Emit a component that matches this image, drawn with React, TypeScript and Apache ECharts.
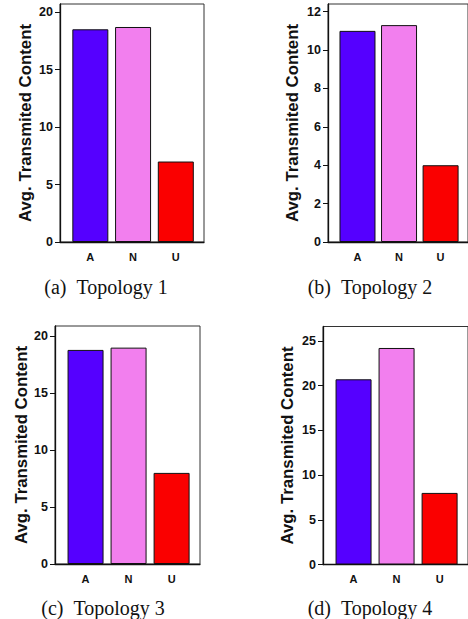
import { useEffect, useRef } from "react";
import * as echarts from "echarts";

const categories = ["A", "N", "U"];
const topology1 = [18.5, 18.7, 7.0];
const topology2 = [11.0, 11.3, 4.0];
const topology3 = [18.8, 19.0, 8.0];
const topology4 = [20.7, 24.2, 8.0];
const seriesValues = [topology1, topology2, topology3, topology4];
const yMaxes = [20.7, 12.4, 20.9, 26.6];
const ySteps = [5, 2, 5, 5];
const yTicks1 = [0, 5, 10, 15, 20];
const yTicks2 = [0, 2, 4, 6, 8, 10, 12];
const yTicks3 = [0, 5, 10, 15, 20];
const yTicks4 = [0, 5, 10, 15, 20, 25];
const yTickLists = [yTicks1, yTicks2, yTicks3, yTicks4];
const captions = ["(a)\u2002Topology 1", "(b)\u2002Topology 2", "(c)\u2002Topology 3", "(d)\u2002Topology 4"];
const yTitle = "Avg. Transmited Content";
const barColors = ["#5500ff", "#f27fee", "#fa0000"];

const grids = [
  { left: 60, top: 4, width: 144, height: 238 },
  { left: 328, top: 4, width: 144, height: 238 },
  { left: 55, top: 326, width: 145, height: 238 },
  { left: 323, top: 326.5, width: 145, height: 238 },
];
const yTitlePos = [
  [25, 123],
  [292, 123],
  [21.5, 445],
  [287.5, 445.5],
];
const captionPos = [
  [106, 287],
  [370, 287],
  [103, 608],
  [370, 608],
];

const SANS = "'Liberation Sans', Arial, Helvetica, sans-serif";
const SERIF = "'Liberation Serif', 'Times New Roman', serif";

export default function App() {
  const ref = useRef<HTMLDivElement>(null);
  useEffect(() => {
    if (!ref.current) return;
    const chart = echarts.init(ref.current, undefined, { renderer: "svg" });
    const option: any = {
      animation: false,
      backgroundColor: "#ffffff",
      grid: grids.map((g) => ({
        ...g,
        show: true,
        borderColor: "#333",
        borderWidth: 1,
        backgroundColor: "transparent",
        containLabel: false,
      })),
      xAxis: grids.map((_, i) => ({
        type: "value",
        gridIndex: i,
        min: -0.71,
        max: 2.66,
        splitLine: { show: false },
        axisTick: { show: false },
        axisLine: { show: true, onZero: false, lineStyle: { color: "#111", width: 1.3 } },
        axisLabel: {
          customValues: [0, 1, 2],
          formatter: (v: number) => categories[Math.round(v)] ?? "",
          fontFamily: SANS,
          fontWeight: "bold",
          fontSize: 11,
          color: "#111",
          margin: 9,
        },
      })),
      yAxis: grids.map((_, i) => ({
        type: "value",
        gridIndex: i,
        min: 0,
        max: yMaxes[i],
        interval: ySteps[i],
        splitLine: { show: false },
        axisLine: { show: true, onZero: false, lineStyle: { color: "#111", width: 1.3 } },
        axisTick: {
          show: true,
          length: 5,
          customValues: yTickLists[i],
          lineStyle: { color: "#111", width: 1 },
        },
        axisLabel: {
          customValues: yTickLists[i],
          fontFamily: SANS,
          fontWeight: "bold",
          fontSize: 12.5,
          color: "#111",
          margin: 7,
        },
      })),
      series: seriesValues.map((vals, i) => ({
        type: "bar",
        xAxisIndex: i,
        yAxisIndex: i,
        barWidth: 36,
        itemStyle: { borderColor: "#111", borderWidth: 1 },
        data: vals.map((v, j) => ({
          value: [j, v],
          itemStyle: { color: barColors[j] },
        })),
      })),
      graphic: [
        ...yTitlePos.map(([x, y]) => ({
          type: "text",
          x,
          y,
          rotation: Math.PI / 2,
          style: {
            text: yTitle,
            fontFamily: SANS,
            fontWeight: "bold",
            fontSize: 16.8,
            fill: "#111",
            textAlign: "center",
            textVerticalAlign: "middle",
          },
        })),
        ...captionPos.map(([x, y], i) => ({
          type: "text",
          x,
          y,
          style: {
            text: captions[i],
            fontFamily: SERIF,
            fontSize: 20,
            fill: "#111",
            textAlign: "center",
            textVerticalAlign: "middle",
          },
        })),
      ],
    };
    chart.setOption(option);
    return () => chart.dispose();
  }, []);
  return (
    <div
      ref={ref}
      style={{ position: "absolute", left: 0, top: 0, width: 468, height: 619 }}
    />
  );
}
